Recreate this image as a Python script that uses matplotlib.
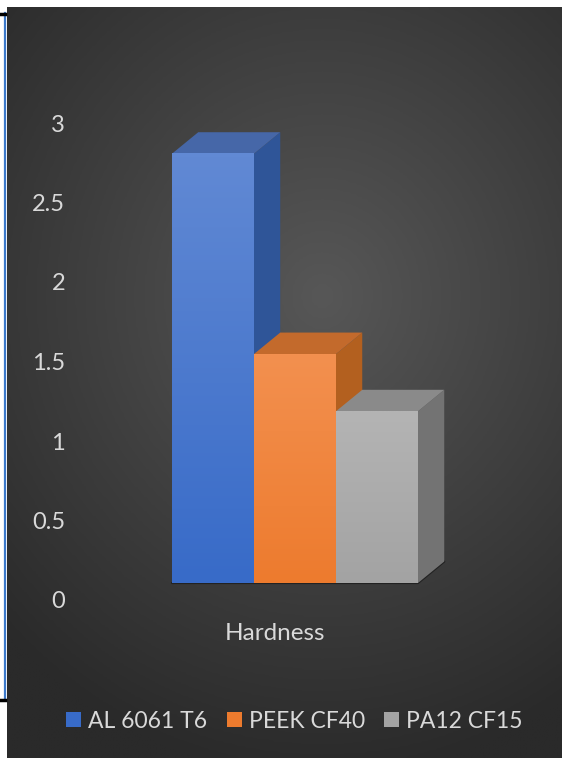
import numpy as np
import matplotlib.pyplot as plt
from matplotlib.patches import Polygon, Rectangle
from matplotlib.colors import LinearSegmentedColormap

# === DATA ===
materials = ["AL 6061 T6", "PEEK CF40", "PA12 CF15"]
hardness = [2.70, 1.44, 1.08]
category = "Hardness"
yticks = [0, 0.5, 1, 1.5, 2, 2.5, 3]
ytick_labels = ["0", "0.5", "1", "1.5", "2", "2.5", "3"]

# === STYLE ===
FRONT_TOP = ["#6189d4", "#f3904f", "#b4b4b4"]
FRONT_BOT = ["#386bc8", "#ed7b2e", "#a3a3a3"]
SIDE = ["#2f5598", "#b3601f", "#737373"]
TOP = ["#4667a8", "#c36a2c", "#8a8a8a"]
TEXT = "#d9d9d9"
BASE = 0.107          # front floor sits slightly above the "0" label
DX, DY = 0.32, 0.135  # 3d depth offset (x units, y units)
FONT = ["Lato", "DejaVu Sans"]
FS = 16.5

W, H = 562, 758
fig = plt.figure(figsize=(W / 100, H / 100), dpi=100)
fig.patch.set_facecolor("white")

# background with radial gradient
bg = fig.add_axes([7 / W, 0, (W - 7) / W, (H - 7) / H])
yy, xx = np.mgrid[0:300, 0:300]
cx, cy = 170, 115
r = np.sqrt(((xx - cx) / 300) ** 2 + ((yy - cy) / 240) ** 2)
g = np.clip(1 - r / 0.8, 0, 1)
bg_cmap = LinearSegmentedColormap.from_list("bg", ["#2a2a2a", "#575757"])
bg.imshow(g, cmap=bg_cmap, aspect="auto", origin="upper", interpolation="bilinear")
bg.axis("off")

# left frame line from the screenshot
fig.add_artist(plt.Line2D([4.5 / W, 4.5 / W], [1 - 13 / H, 1 - 700 / H], color="#3b78c9", lw=1.6))
fig.add_artist(plt.Line2D([0, 5 / W], [1 - 14 / H, 1 - 14 / H], color="black", lw=2.5))
fig.add_artist(plt.Line2D([0, 5 / W], [1 - 700 / H, 1 - 700 / H], color="black", lw=2.5))

# main axes: value 0 at y=600px, 3 at y=123px; bar 0 centred at x=213px, 82px wide
left_px = 70
ax = fig.add_axes([left_px / W, 0, (W - left_px) / W, (H - 7) / H])
ax.set_facecolor("none")
ppu = (600 - 123) / 3
for s in ax.spines.values():
    s.set_visible(False)
ax.set_xticks([])
ax.set_yticks(yticks)
ax.set_yticklabels(ytick_labels, color=TEXT, fontsize=17, family=FONT)
ax.tick_params(axis="y", length=0, pad=3.5)

x = np.arange(len(materials))
w = 1.0

# floor outline
x0, x1 = x[0] - w / 2, x[-1] + w / 2
ax.plot([x0, x1, x1 + DX], [BASE, BASE, BASE + DY], color="#222222", lw=1.6, zorder=2,
        solid_capstyle="round")

# bars drawn left to right: each bar's lid covers the previous bar's side
for i in range(len(materials)):
    z = 3 + 2 * i
    xl, xr = x[i] - w / 2, x[i] + w / 2
    top = BASE + hardness[i]
    side = Polygon([(xr, BASE), (xr + DX, BASE + DY), (xr + DX, top + DY), (xr, top)],
                   closed=True, facecolor=SIDE[i], edgecolor="none", zorder=z)
    ax.add_patch(side)
    lid = Polygon([(xl, top), (xr, top), (xr + DX, top + DY), (xl + DX, top + DY)],
                  closed=True, facecolor=TOP[i], edgecolor="none", zorder=z)
    ax.add_patch(lid)
    cmap = LinearSegmentedColormap.from_list("f%d" % i, [FRONT_BOT[i], FRONT_TOP[i]])
    grad = np.linspace(0, 1, 100).reshape(-1, 1)
    ax.imshow(grad, cmap=cmap, extent=(xl, xr, BASE, top), origin="lower",
              aspect="auto", zorder=z + 1, interpolation="bilinear")

ax.set_xlim((left_px - 213) / 82, (W - 213) / 82)
ax.set_ylim((600 - H) / ppu, (600 - 7) / ppu)

# category label
ax.text(x[1] - 0.24, (600 - 633) / ppu, category, color=TEXT, fontsize=17.5, family=FONT,
        ha="center", va="center")

# legend
handles = [Rectangle((0, 0), 1, 1, facecolor=FRONT_BOT[i], edgecolor="none") for i in range(3)]
leg = fig.legend(handles, materials, loc="center", bbox_to_anchor=(0.524, 1 - 721 / H),
                 ncol=3, frameon=False, handlelength=0.65, handleheight=0.65,
                 handletextpad=0.3, columnspacing=0.85,
                 prop={"family": FONT, "size": FS})
for t in leg.get_texts():
    t.set_color(TEXT)

fig.savefig("out.png", dpi=100, facecolor=fig.get_facecolor())
